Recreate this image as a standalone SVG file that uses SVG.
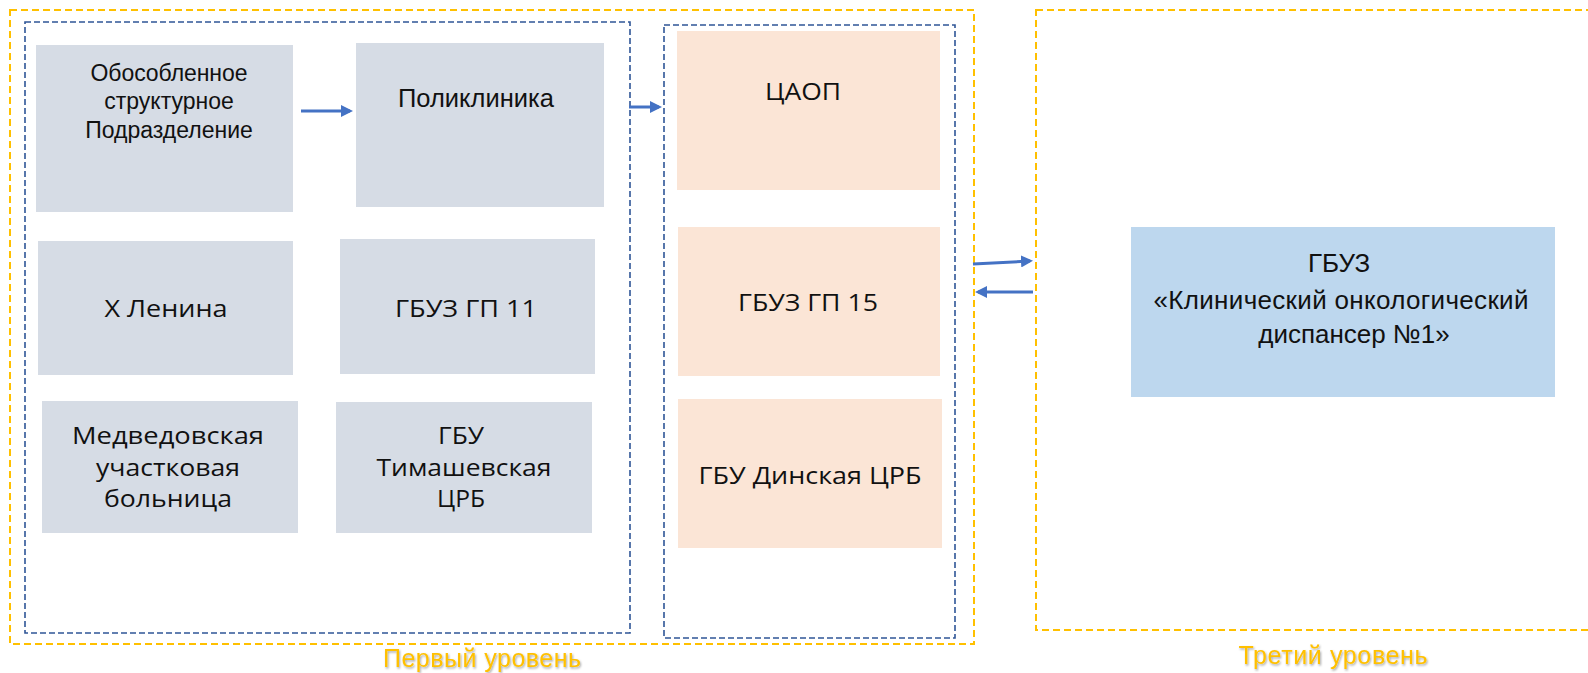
<svg xmlns="http://www.w3.org/2000/svg" width="1588" height="673" viewBox="0 0 1588 673">
<style>
.bg{fill:#fff}
.yel{fill:none;stroke:#FFC000;stroke-width:2;stroke-dasharray:7 4}
.blu{fill:none;stroke:#2F5597;stroke-width:1.6;stroke-dasharray:6 3}
.g{fill:#D6DCE5}
.p{fill:#FBE5D6}
.b{fill:#BDD7EE}
.ta{font-family:"Liberation Sans",Arial,sans-serif;fill:#111;text-anchor:middle}
.tc{font-family:"Open Sans","Noto Sans",sans-serif;font-size:24px;fill:#111;text-anchor:middle}
.tm{font-family:"Open Sans","Noto Sans",sans-serif;font-size:23px;fill:#111;text-anchor:middle}
.lbl{font-family:"Liberation Sans",Arial,sans-serif;font-size:25px;fill:#FFC000;text-anchor:middle;filter:url(#sh)}
.arr{stroke:#4472C4;stroke-width:3;fill:none;marker-end:url(#ah)}
</style>
<defs>
<marker id="ah" markerWidth="4" markerHeight="4" refX="3" refY="2" orient="auto" markerUnits="strokeWidth">
<path d="M0,0 L4,2 L0,4 Z" fill="#4472C4"/>
</marker>
<filter id="sh" x="-10%" y="-30%" width="120%" height="160%">
<feDropShadow dx="1" dy="1.5" stdDeviation="1" flood-color="#000" flood-opacity="0.35"/>
</filter>
</defs>
<rect class="bg" width="1588" height="673"/>
<g id="containers">
<rect id="level1" class="yel" x="10" y="10" width="964" height="634"/>
<rect id="level3" class="yel" x="1036" y="10" width="560" height="620"/>
<rect id="group-left" class="blu" x="25" y="22" width="605" height="611"/>
<rect id="group-right" class="blu" x="664" y="25" width="291" height="613"/>
</g>
<g id="n1"><rect class="g" x="36" y="45" width="257" height="167"/>
<text class="ta" font-size="23" x="169" y="81" textLength="157">Обособленное</text>
<text class="ta" font-size="23" x="169" y="109">структурное</text>
<text class="ta" font-size="23" x="169" y="138">Подразделение</text></g>
<g id="n2"><rect class="g" x="356" y="43" width="248" height="164"/>
<text class="ta" font-size="25.5" x="476" y="107" textLength="156">Поликлиника</text></g>
<g id="n3"><rect class="g" x="38" y="241" width="255" height="134"/>
<text class="tc" x="166" y="317" textLength="123" lengthAdjust="spacingAndGlyphs">Х Ленина</text></g>
<g id="n4"><rect class="g" x="340" y="239" width="255" height="135"/>
<text class="tc" x="466" y="317" textLength="142" lengthAdjust="spacingAndGlyphs">ГБУЗ ГП 11</text></g>
<g id="n5"><rect class="g" x="42" y="401" width="256" height="132"/>
<text class="tm" x="168" y="444" textLength="192" lengthAdjust="spacingAndGlyphs">Медведовская</text>
<text class="tm" x="168" y="476" textLength="144" lengthAdjust="spacingAndGlyphs">участковая</text>
<text class="tm" x="168" y="507" textLength="128" lengthAdjust="spacingAndGlyphs">больница</text></g>
<g id="n6"><rect class="g" x="336" y="402" width="256" height="131"/>
<text class="tm" x="461" y="444" textLength="46" lengthAdjust="spacingAndGlyphs">ГБУ</text>
<text class="tm" x="464" y="476" textLength="175" lengthAdjust="spacingAndGlyphs">Тимашевская</text>
<text class="tm" x="461" y="507" textLength="48" lengthAdjust="spacingAndGlyphs">ЦРБ</text></g>
<g id="n7"><rect class="p" x="677" y="31" width="263" height="159"/>
<text class="tc" font-size="29" x="803" y="100" textLength="76" lengthAdjust="spacingAndGlyphs">ЦАОП</text></g>
<g id="n8"><rect class="p" x="678" y="227" width="262" height="149"/>
<text class="tc" x="808" y="311" textLength="140" lengthAdjust="spacingAndGlyphs">ГБУЗ ГП 15</text></g>
<g id="n9"><rect class="p" x="678" y="399" width="264" height="149"/>
<text class="tc" x="810" y="484" textLength="223" lengthAdjust="spacingAndGlyphs">ГБУ Динская ЦРБ</text></g>
<g id="n10"><rect class="b" x="1131" y="227" width="424" height="170"/>
<text class="ta" font-size="26" x="1339" y="272">ГБУЗ</text>
<text class="ta" font-size="26" x="1341" y="309" textLength="375">«Клинический онкологический</text>
<text class="ta" font-size="26" x="1354" y="343">диспансер №1»</text></g>
<g id="connectors">
<line class="arr" x1="301" y1="111" x2="350" y2="111"/>
<line class="arr" x1="629" y1="107" x2="659" y2="107"/>
<line class="arr" x1="973" y1="264" x2="1030" y2="261"/>
<line class="arr" x1="1033" y1="292" x2="978" y2="292"/>
</g>
<g id="labels">
<text class="lbl" x="482" y="667" textLength="198">Первый уровень</text>
<text class="lbl" x="1333" y="664" textLength="189">Третий уровень</text>
</g>
</svg>
